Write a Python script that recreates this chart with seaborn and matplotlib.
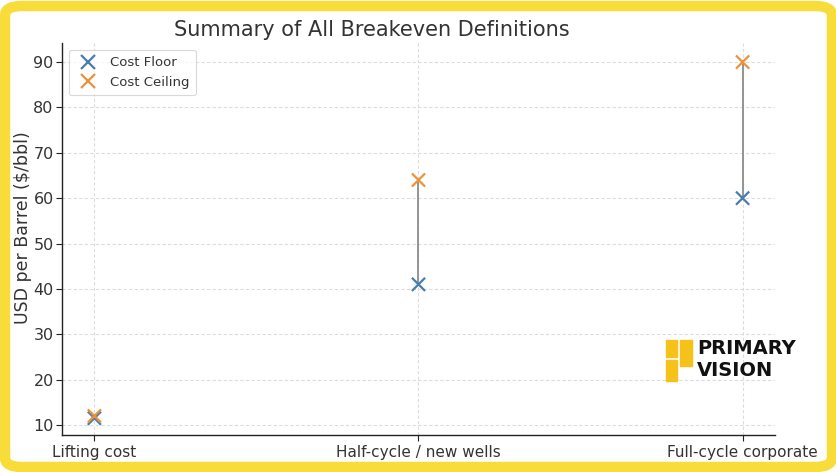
import matplotlib
matplotlib.use("Agg")
import matplotlib.pyplot as plt
from matplotlib.patches import FancyBboxPatch, Rectangle
import pandas as pd
import seaborn as sns

# Breakeven ranges
categories = ["Lifting cost", "Half-cycle / new wells", "Full-cycle corporate"]
cost_floor = [11.5, 41, 60]
cost_ceiling = [12, 64, 90]

floor_color = "#4A7DAE"
ceiling_color = "#EA933A"

df = pd.DataFrame({
    "category": categories * 2,
    "value": cost_floor + cost_ceiling,
    "series": ["Cost Floor"] * 3 + ["Cost Ceiling"] * 3,
})

sns.set_theme(style="whitegrid")
plt.rcParams["font.family"] = ["DejaVu Sans"]

fig = plt.figure(figsize=(8.37, 4.72), dpi=100)
fig.patch.set_facecolor("white")
ax = fig.add_axes([62 / 837, 37 / 472, 713 / 837, 392 / 472])
ax.set_facecolor("white")

# yellow rounded frame
frame = FancyBboxPatch((5 / 837, 5 / 472), 827 / 837, 461 / 472,
                       boxstyle="round,pad=0,rounding_size=0.02",
                       transform=fig.transFigure, facecolor="none",
                       edgecolor="#F7DC3A", linewidth=7.5, zorder=10)
fig.patches.append(frame)

x_pos = range(len(categories))
ax.vlines(x_pos, cost_floor, cost_ceiling, color="#8C8C8C", linewidth=1.3, zorder=2)

sns.scatterplot(data=df, x="category", y="value", hue="series", marker="x",
                palette={"Cost Floor": floor_color, "Cost Ceiling": ceiling_color},
                s=90, linewidth=1.6, ax=ax, zorder=3)

ax.set_xlim(-0.1, 2.1)
ax.set_ylim(7.8, 94.2)
ax.set_yticks(range(10, 91, 10))

ax.grid(True, linestyle=(0, (3, 2)), color="#DCDCDC", linewidth=0.8)
for side in ["top", "right"]:
    ax.spines[side].set_visible(False)
for side in ["left", "bottom"]:
    ax.spines[side].set_color("#222222")
    ax.spines[side].set_linewidth(1.0)

ax.tick_params(axis="both", colors="#222222", length=4,
               left=True, bottom=True, width=0.8)
ax.tick_params(axis="y", pad=2, labelsize=11.5)
ax.tick_params(axis="x", pad=3, labelsize=11)
for lab in ax.get_xticklabels() + ax.get_yticklabels():
    lab.set_color("#333333")

ax.set_xlabel("")
ax.set_ylabel("")
fig.text(23 / 837, 1 - 228 / 472, "USD per Barrel ($/bbl)", fontsize=12.5,
         color="#333333", rotation=90, ha="center", va="center")
fig.text(372 / 837, 1 - 30 / 472, "Summary of All Breakeven Definitions",
         fontsize=15, color="#333333", ha="center", va="center")

leg = ax.legend(loc="upper left", fontsize=9.5, frameon=True, borderpad=0.5,
                handletextpad=0.6, markerscale=1.0)
leg.get_frame().set_edgecolor("#D0D0D0")
leg.get_frame().set_linewidth(0.8)
for t in leg.get_texts():
    t.set_color("#333333")

# Primary Vision logo
logo_yellow = "#F6C21A"
fig.patches.append(Rectangle((666 / 837, 1 - 357 / 472), 11 / 837, 17 / 472,
                             transform=fig.transFigure, color=logo_yellow, zorder=11))
fig.patches.append(Rectangle((666 / 837, 1 - 381 / 472), 11 / 837, 21 / 472,
                             transform=fig.transFigure, color=logo_yellow, zorder=11))
fig.patches.append(Rectangle((680 / 837, 1 - 366 / 472), 12 / 837, 26 / 472,
                             transform=fig.transFigure, color=logo_yellow, zorder=11))
fig.text(697 / 837, 1 - 349 / 472, "PRIMARY", fontsize=14, fontweight="semibold",
         color="#111111", va="center", ha="left")
fig.text(697 / 837, 1 - 371 / 472, "VISION", fontsize=14, fontweight="semibold",
         color="#111111", va="center", ha="left")

fig.savefig("out.png", dpi=100, facecolor="white")
